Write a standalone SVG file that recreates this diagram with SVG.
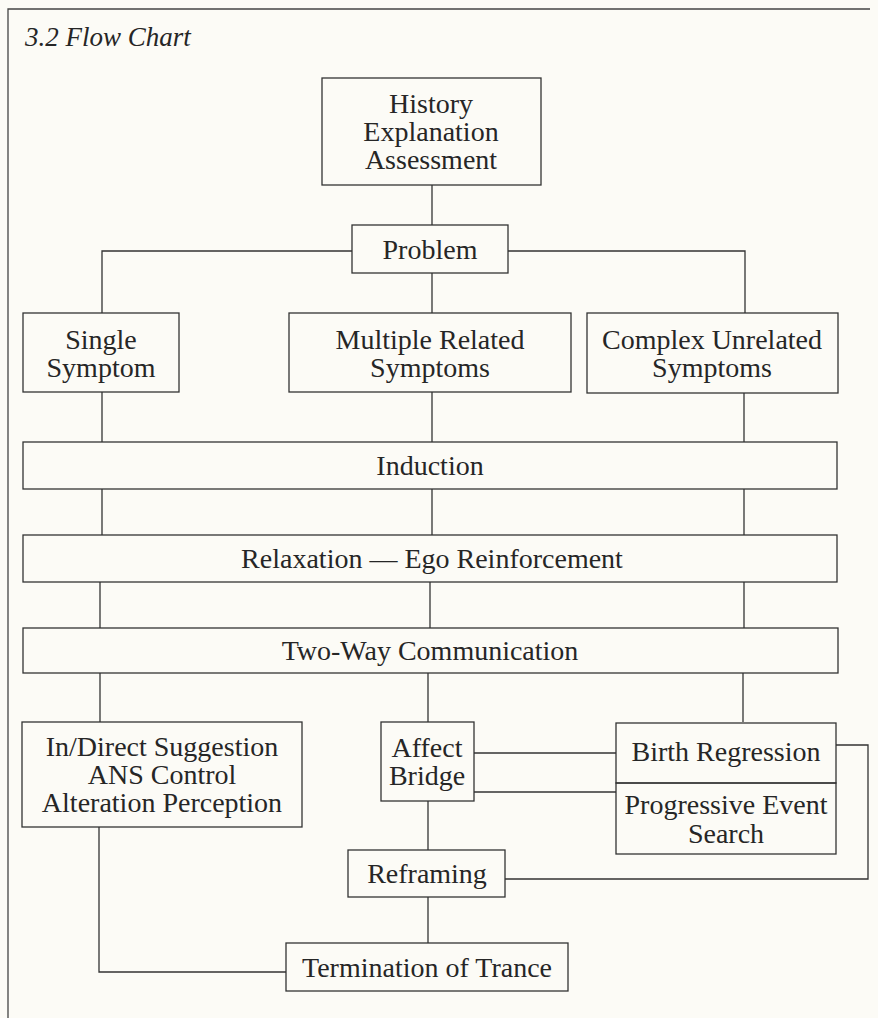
<svg xmlns="http://www.w3.org/2000/svg" width="878" height="1018" viewBox="0 0 878 1018">
<defs>
<style>
.bg{fill:#fcfbf6}
.frame{fill:none;stroke:#444;stroke-width:1.3}
.box{fill:none;stroke:#333;stroke-width:1.3}
.con{fill:none;stroke:#333;stroke-width:1.3}
.t{font-family:"Liberation Serif","DejaVu Serif",serif;font-size:28px;fill:#262626;text-anchor:middle}
.title{font-family:"Liberation Serif","DejaVu Serif",serif;font-size:27px;font-style:italic;fill:#262626}
</style>
</defs>
<rect class="bg" x="0" y="0" width="878" height="1018"/>
<path class="frame" d="M8 1018 V9 H870"/>
<text class="title" x="25" y="46">3.2 Flow Chart</text>

<g id="connectors">
<path class="con" d="M432 185 V225"/>
<path class="con" d="M352 251 H102 V313"/>
<path class="con" d="M508 251 H745 V313"/>
<path class="con" d="M432 273 V313"/>
<path class="con" d="M102 392 V442"/>
<path class="con" d="M432 392 V442"/>
<path class="con" d="M744 393 V442"/>
<path class="con" d="M102 489 V535"/>
<path class="con" d="M432 489 V535"/>
<path class="con" d="M744 489 V535"/>
<path class="con" d="M100 582 V628"/>
<path class="con" d="M430 582 V628"/>
<path class="con" d="M744 582 V628"/>
<path class="con" d="M100 673 V722"/>
<path class="con" d="M428 673 V722"/>
<path class="con" d="M743 673 V722"/>
<path class="con" d="M474 753 H616"/>
<path class="con" d="M474 792 H616"/>
<path class="con" d="M836 745 H868 V879 H505"/>
<path class="con" d="M428 801 V850"/>
<path class="con" d="M428 897 V943"/>
<path class="con" d="M99 827 V972 H286"/>
</g>

<g id="history">
<rect class="box" x="322" y="78" width="219" height="107"/>
<text class="t" x="431" y="113">History</text>
<text class="t" x="431" y="141">Explanation</text>
<text class="t" x="431" y="169">Assessment</text>
</g>
<g id="problem">
<rect class="box" x="352" y="225" width="156" height="48"/>
<text class="t" x="430" y="259">Problem</text>
</g>
<g id="single">
<rect class="box" x="23" y="313" width="156" height="79"/>
<text class="t" x="101" y="349">Single</text>
<text class="t" x="101" y="377">Symptom</text>
</g>
<g id="multiple">
<rect class="box" x="289" y="313" width="282" height="79"/>
<text class="t" x="430" y="349">Multiple Related</text>
<text class="t" x="430" y="377">Symptoms</text>
</g>
<g id="complex">
<rect class="box" x="587" y="313" width="251" height="80"/>
<text class="t" x="712" y="349">Complex Unrelated</text>
<text class="t" x="712" y="377">Symptoms</text>
</g>
<g id="induction">
<rect class="box" x="23" y="442" width="814" height="47"/>
<text class="t" x="430" y="475">Induction</text>
</g>
<g id="relaxation">
<rect class="box" x="23" y="535" width="814" height="47"/>
<text class="t" x="432" y="568">Relaxation — Ego Reinforcement</text>
</g>
<g id="twoway">
<rect class="box" x="23" y="628" width="815" height="45"/>
<text class="t" x="430" y="660">Two-Way Communication</text>
</g>
<g id="suggestion">
<rect class="box" x="22" y="722" width="280" height="105"/>
<text class="t" x="162" y="756">In/Direct Suggestion</text>
<text class="t" x="162" y="784">ANS Control</text>
<text class="t" x="162" y="812">Alteration Perception</text>
</g>
<g id="affect">
<rect class="box" x="381" y="722" width="93" height="79"/>
<text class="t" x="427" y="757">Affect</text>
<text class="t" x="427" y="785">Bridge</text>
</g>
<g id="birth">
<rect class="box" x="616" y="723" width="220" height="60"/>
<text class="t" x="726" y="761">Birth Regression</text>
</g>
<g id="progressive">
<rect class="box" x="616" y="783" width="220" height="71"/>
<text class="t" x="726" y="814">Progressive Event</text>
<text class="t" x="726" y="843">Search</text>
</g>
<g id="reframing">
<rect class="box" x="348" y="850" width="157" height="47"/>
<text class="t" x="427" y="883">Reframing</text>
</g>
<g id="termination">
<rect class="box" x="286" y="943" width="282" height="48"/>
<text class="t" x="427" y="977">Termination of Trance</text>
</g>
</svg>
